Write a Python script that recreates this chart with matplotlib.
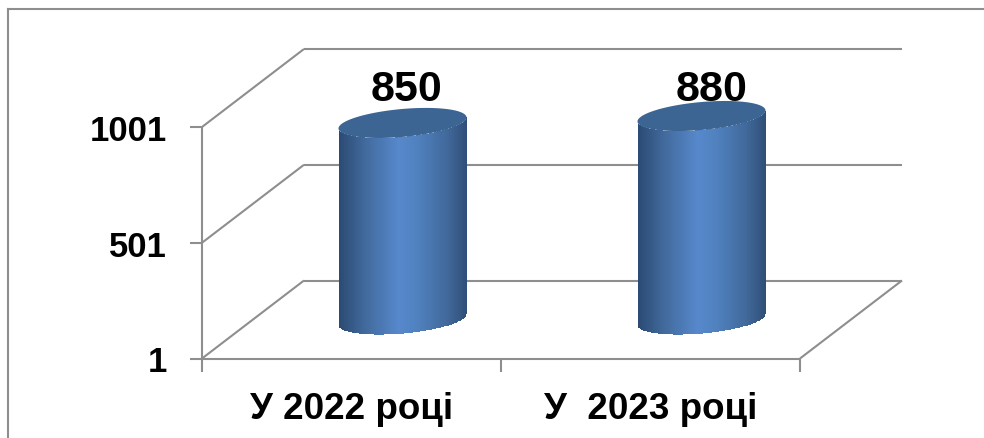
import numpy as np
import matplotlib
matplotlib.use("Agg")
import matplotlib.pyplot as plt
from matplotlib.colors import LinearSegmentedColormap
from matplotlib.lines import Line2D

categories = ["У 2022 році", "У  2023 році"]
values = [850, 880]
y_ticks = [1, 501, 1001]

W, H = 984, 439
GRAY = "#8e8e8e"
plt.rcParams["font.family"] = ["Liberation Sans", "DejaVu Sans"]

fig = plt.figure(figsize=(W / 100, H / 100), dpi=100, facecolor="white")
# Axes = front plane of the 3D box
L, R, T, B = 202, 800, 128, 359.5
ax = fig.add_axes([L / W, 1 - B / H, (R - L) / W, (B - T) / H])
ax.set_xlim(0, 2)
ax.set_ylim(1, 1001)
ax.patch.set_alpha(0)
for s in ax.spines.values():
    s.set_visible(False)

px_x = 2 / (R - L)            # data units per pixel
px_y = 1000 / (B - T)
DX, DY = 102 * px_x, 78 * px_y  # depth of the box

lw = 1.5
kw = dict(color=GRAY, lw=lw, clip_on=False, zorder=1, solid_capstyle="butt")
for v in y_ticks:
    ax.plot([0, DX], [v, v + DY], **kw)
    ax.plot([DX, 2 + DX], [v + DY, v + DY], **kw)
ax.plot([0, 2], [1, 1], **kw)
ax.plot([0, 0], [1, 1001], **kw)
ax.plot([2, 2 + DX], [1, 1 + DY], **kw)

ax.set_xticks([0, 1, 2])
ax.set_xticklabels([])
ax.set_yticks(y_ticks)
ax.set_yticklabels([str(v) for v in y_ticks], fontsize=25, fontweight="bold")
ax.tick_params(axis="both", color=GRAY, width=lw, length=9)
ax.tick_params(axis="y", pad=16)
for i, c in enumerate(categories):
    ax.text(i + 0.5, 1 - 50 * px_y, c, ha="center", va="center",
            fontsize=26.5, fontweight="bold", clip_on=False)

# cylinders
side = LinearSegmentedColormap.from_list(
    "side", [(0, "#2a4a72"), (0.2, "#41699b"), (0.47, "#5688cc"),
             (0.62, "#5081be"), (0.85, "#41699b"), (1, "#2f4f78")])
top = LinearSegmentedColormap.from_list("top", ["#3f6798", "#3a5f8d"])
a, b, tilt = 64 * px_x, 14 * px_y, 5.5 / 64 * px_y / px_x
for i, v in enumerate(values):
    cx = i + 0.5 + DX / 2
    y0 = 1 + DY / 2
    y1 = v + DY / 2
    t = np.linspace(np.pi, 2 * np.pi, 181)
    xs = cx + a * np.cos(t)
    low = y0 + b * np.sin(t) + tilt * (xs - cx)
    high = y1 + b * np.sin(t) + tilt * (xs - cx)
    X = np.vstack([xs, xs])
    Y = np.vstack([low, high])
    mids = (xs[:-1] + xs[1:]) / 2
    C = ((mids - (cx - a)) / (2 * a))[None, :]
    ax.pcolormesh(X, Y, C, cmap=side, vmin=0, vmax=1, shading="flat",
                  clip_on=False, zorder=3, antialiased=False,
                  edgecolors="none", rasterized=True)
    tt = np.linspace(0, 2 * np.pi, 361)
    ex = cx + a * np.cos(tt)
    ey = y1 + b * np.sin(tt) + tilt * (ex - cx)
    ax.fill(ex, ey, color="#3d6593", clip_on=False, zorder=4, lw=0)
    ax.text(cx + (4 + 6 * i) * px_x, y1 + (14 - 7 * i) * px_y, str(v),
            ha="center", va="bottom",
            fontsize=31, fontweight="bold", clip_on=False, zorder=5)

# outer chart frame
for xs_, ys_ in (([8, 8], [10, H]), ([8, W], [10, 10])):
    fig.add_artist(Line2D([x / W for x in xs_], [1 - y / H for y in ys_],
                          color=GRAY, lw=1.5))

fig.savefig("out.png", dpi=100)
